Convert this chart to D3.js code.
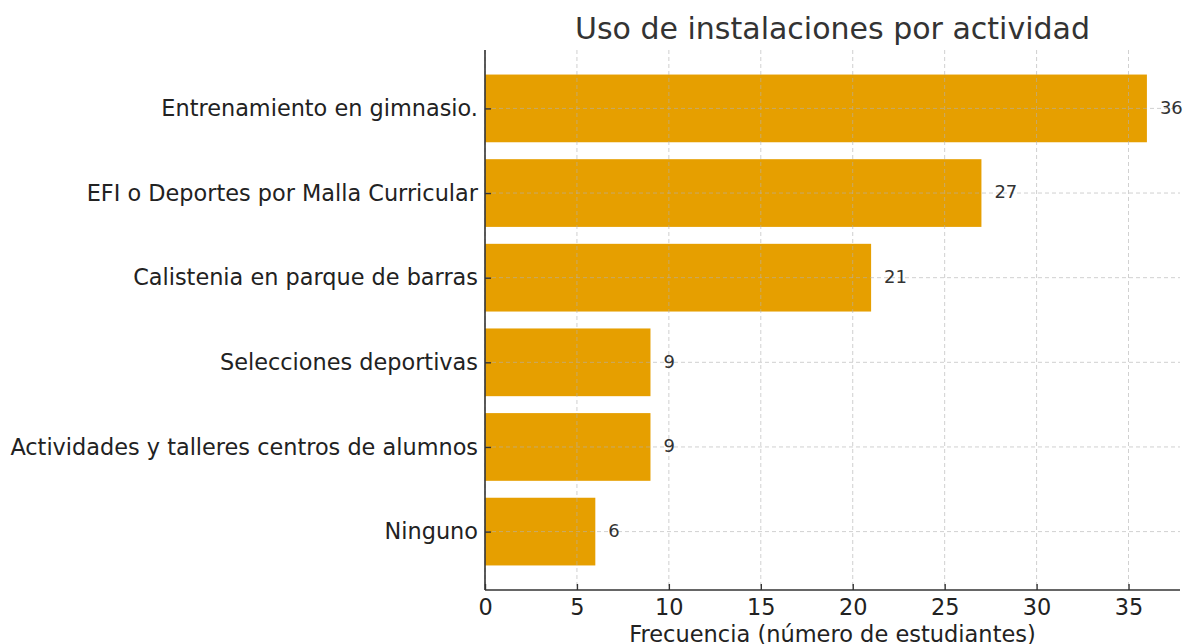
<!DOCTYPE html>
<html>
<head>
<meta charset="utf-8">
<script src="https://cdn.jsdelivr.net/npm/d3@7"></script>
<style>
  body { margin: 0; background: #fff; }
  svg { font-family: "DejaVu Sans", sans-serif; }
</style>
</head>
<body>
<div id="chart"></div>
<script>
// data
let categories = [
  "Entrenamiento en gimnasio.",
  "EFI o Deportes por Malla Curricular",
  "Calistenia en parque de barras",
  "Selecciones deportivas",
  "Actividades y talleres centros de alumnos",
  "Ninguno"
];
let counts = [36, 27, 21, 9, 9, 6];
let xTicks = [0, 5, 10, 15, 20, 25, 30, 35];

let width = 1185, height = 644;
let plotLeft = 485, plotRight = 1180, plotTop = 50, plotBottom = 590;

let svg = d3.select("#chart")
            .append("svg")
            .attr("width", width)
            .attr("height", height);

// matplotlib-like margins: 5% on x, bars of 0.8 with 5% padding on y
let xMax = d3.max(counts) * 1.05;
let x = d3.scaleLinear().domain([0, xMax]).range([plotLeft, plotRight]);
let n = categories.length;
let span = (n - 1) + 0.8;
let y = d3.scaleLinear()
    .domain([-0.4 - span * 0.05, (n - 1) + 0.4 + span * 0.05])
    .range([plotTop, plotBottom]);
let barH = y(0.4) - y(-0.4);

// bars
svg.selectAll(".bar")
    .data(counts)
    .enter().append("rect")
    .attr("class", "bar")
    .attr("x", x(0))
    .attr("y", (d, i) => y(i - 0.4))
    .attr("width", d => x(d) - x(0))
    .attr("height", barH)
    .style("fill", "#E69F00");

// grid on top of bars
let grid = svg.append("g").attr("class", "grid")
    .style("stroke", "#b0b0b0")
    .style("stroke-opacity", 0.6)
    .style("stroke-dasharray", "4,3")
    .style("stroke-width", 1);
grid.selectAll(".vg")
    .data(xTicks)
    .enter().append("line")
    .attr("x1", d => x(d)).attr("x2", d => x(d))
    .attr("y1", plotTop).attr("y2", plotBottom);
grid.selectAll(".hg")
    .data(categories)
    .enter().append("line")
    .attr("x1", plotLeft).attr("x2", plotRight)
    .attr("y1", (d, i) => y(i)).attr("y2", (d, i) => y(i));

// x axis
let xAxis = d3.axisBottom(x).tickValues(xTicks).tickSize(-6).tickPadding(9);
let gx = svg.append("g")
    .attr("transform", "translate(0," + plotBottom + ")")
    .call(xAxis);
gx.select(".domain").attr("d", "M" + plotLeft + ",0H" + plotRight).style("stroke", "#333").style("stroke-width", 1.6);
gx.selectAll(".tick line").style("stroke", "#333").style("stroke-width", 1.4);
gx.selectAll(".tick text")
    .style("font-size", "22.4px")
    .style("fill", "#222")
    .style("font-family", "DejaVu Sans, sans-serif")
    .attr("dy", "0.71em");

// y axis
let yAxis = d3.axisLeft(y)
    .tickValues(d3.range(n))
    .tickFormat(i => categories[i])
    .tickSize(-6)
    .tickPadding(7);
let gy = svg.append("g")
    .attr("transform", "translate(" + plotLeft + ",0)")
    .call(yAxis);
gy.select(".domain").attr("d", "M0," + plotTop + "V" + plotBottom).style("stroke", "#333").style("stroke-width", 1.6);
gy.selectAll(".tick line").style("stroke", "#333").style("stroke-width", 1.4);
gy.selectAll(".tick text")
    .style("font-size", "22.4px")
    .style("fill", "#222")
    .style("font-family", "DejaVu Sans, sans-serif");

// value labels
svg.selectAll(".val")
    .data(counts)
    .enter().append("text")
    .attr("class", "val")
    .attr("x", d => x(d) + 13)
    .attr("y", (d, i) => y(i) - 1)
    .attr("dy", "0.35em")
    .style("font-size", "18px")
    .style("fill", "#333")
    .text(d => d);

// title
svg.append("text")
    .attr("x", (plotLeft + plotRight) / 2)
    .attr("y", 39)
    .attr("text-anchor", "middle")
    .style("font-size", "30px")
    .style("fill", "#333")
    .text("Uso de instalaciones por actividad");

// x label
svg.append("text")
    .attr("x", (plotLeft + plotRight) / 2)
    .attr("y", 642)
    .attr("text-anchor", "middle")
    .style("font-size", "22.5px")
    .style("fill", "#222")
    .text("Frecuencia (número de estudiantes)");
</script>
</body>
</html>
